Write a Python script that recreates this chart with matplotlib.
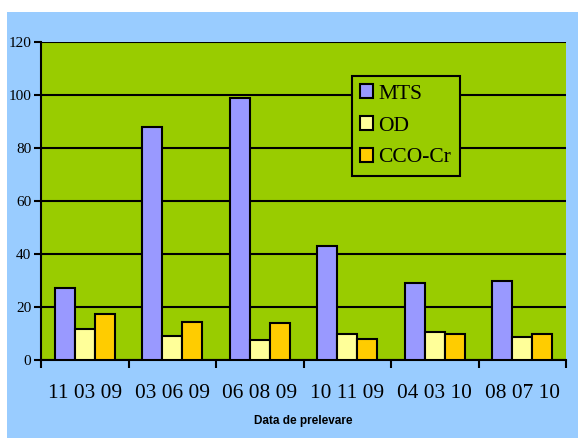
import numpy as np
import matplotlib.pyplot as plt
from matplotlib.patches import Rectangle

# sampling dates and measured values
dates = ["11 03 09", "03 06 09", "06 08 09", "10 11 09", "04 03 10", "08 07 10"]
mts = [27, 88, 99, 43, 29, 30]
od = [11.6, 9.2, 7.6, 10, 10.7, 8.5]
cco_cr = [17.3, 14.2, 13.8, 8, 10, 10]

W, H = 578, 438
fig = plt.figure(figsize=(W / 100, H / 100), dpi=100)
fig.patch.set_facecolor("white")

# light blue chart area behind everything
fig.add_artist(Rectangle((7 / W, 0), 1 - 7 / W, (H - 12) / H,
                         transform=fig.transFigure, facecolor="#99CCFF",
                         edgecolor="none", zorder=-1))

ax = fig.add_axes([41 / W, (H - 360) / H, 525 / W, 318 / H])
ax.set_zorder(1)
ax.set_facecolor("#99CC00")

x = np.arange(len(dates))
w = 0.23
ax.bar(x - w, mts, w, color="#9999FF", edgecolor="black", linewidth=1.5, label="MTS", zorder=3)
ax.bar(x, od, w, color="#FFFF99", edgecolor="black", linewidth=1.5, label="OD", zorder=3)
ax.bar(x + w, cco_cr, w, color="#FFCC00", edgecolor="black", linewidth=1.5, label="CCO-Cr", zorder=3)

ax.set_xlim(-0.5, len(dates) - 0.5)
ax.set_ylim(0, 120)
ax.set_yticks(range(0, 121, 20))
ax.yaxis.grid(True, color="black", linewidth=1.5, zorder=1)
ax.set_axisbelow(True)

ax.set_xticks(np.arange(len(dates) + 1) - 0.5)
ax.set_xticklabels([])
ax.set_xticks(x, minor=True)
ax.set_xticklabels(dates, minor=True, fontfamily="Liberation Serif", fontsize=15.4)
ax.tick_params(axis="x", which="minor", length=0, pad=17)
ax.tick_params(axis="x", which="major", length=6, width=1.5, direction="out")
ax.tick_params(axis="y", length=5, width=1.5, direction="out", pad=2)
for lbl in ax.get_yticklabels():
    lbl.set_fontfamily("Liberation Serif")
    lbl.set_fontsize(11)

for s in ax.spines.values():
    s.set_linewidth(1.5)
    s.set_color("black")
ax.spines["top"].set_visible(False)
ax.spines["right"].set_visible(False)

ax.set_xlabel("Data de prelevare", fontfamily="Liberation Sans", fontweight="bold",
              fontsize=8.5, labelpad=9)

leg = ax.legend(loc="upper left", bbox_to_anchor=(311 / 525, 1 - 34 / 318),
                borderaxespad=0,
                prop={"family": "Liberation Serif", "size": 15.5},
                handlelength=0.6, handleheight=0.6, handletextpad=0.25,
                labelspacing=0.58, borderpad=0.38, fancybox=False, frameon=True)
leg.get_frame().set_facecolor("#99CC00")
leg.get_frame().set_edgecolor("black")
leg.get_frame().set_linewidth(1.5)
leg.get_frame().set_alpha(1)

fig.savefig("out.png", dpi=100)
